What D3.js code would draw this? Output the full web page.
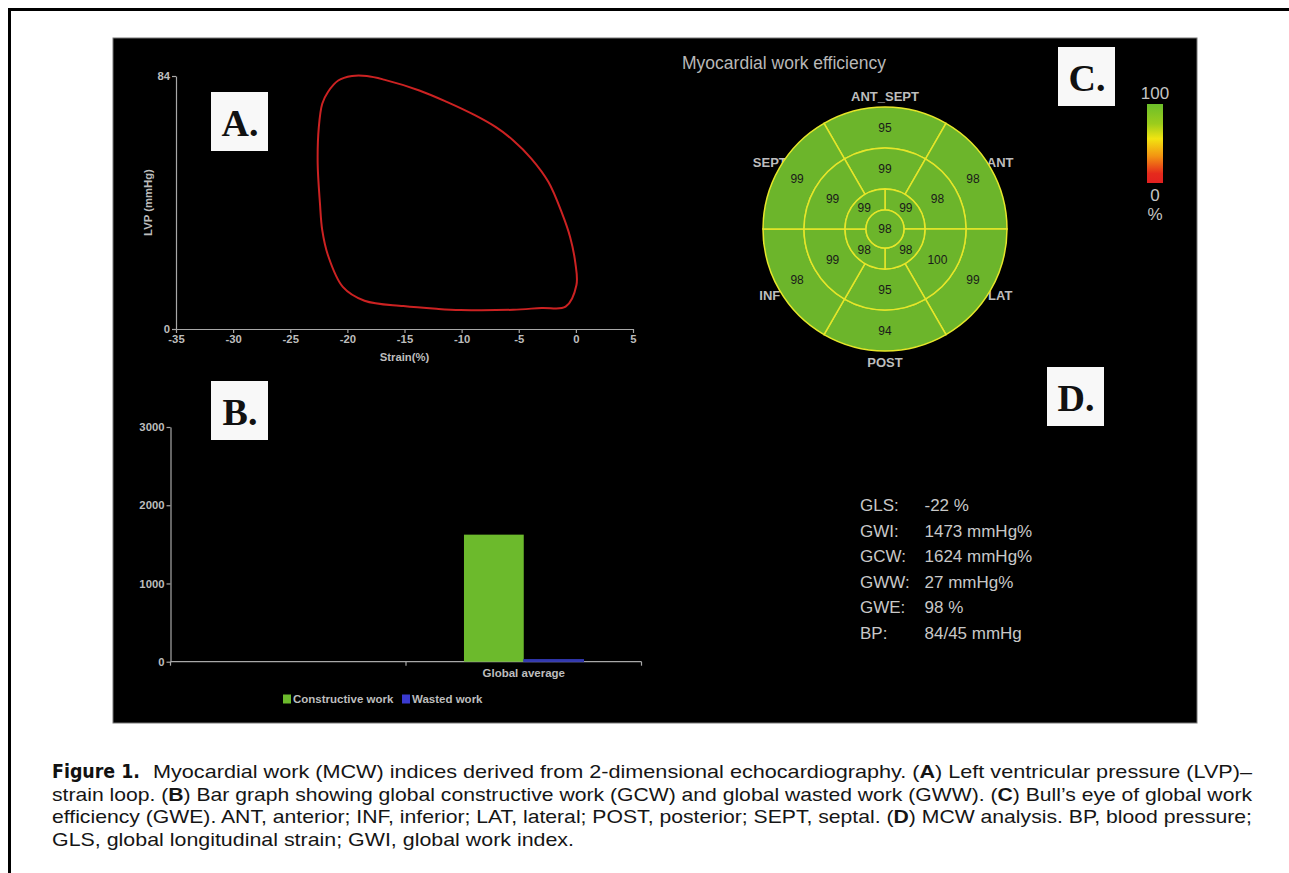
<!DOCTYPE html>
<html>
<head>
<meta charset="utf-8">
<script src="https://cdn.jsdelivr.net/npm/d3@7"></script>
<style>
  body { margin: 0; background: #ffffff; }
</style>
</head>
<body>
<div id="figura"></div>
<script>
// Datos del bucle presión-deformación (A)
const strainLoop = [-0.9, 0.05, -0.05, -0.5, -1.2, -2.4, -3.9, -5.5, -7.0, -8.8, -11.3, -13.7, -16.8, -18.3, -19.6, -20.8, -21.7, -22.2, -22.5, -22.6, -22.4, -22.2, -21.7, -20.4, -18.5, -15.1, -12.2, -10.1, -5.5, -3.0];
const pressureLoop = [7.4, 14.6, 22, 30.5, 38.3, 48.8, 56.6, 62.7, 67, 70.9, 75.4, 79.2, 82.8, 84, 84, 82.5, 78.7, 74.8, 67, 55, 41.7, 32.8, 24.5, 14, 9.4, 7.6, 6.7, 6.3, 6.4, 7.0];
const strainTicks = [-35, -30, -25, -20, -15, -10, -5, 0, 5];
const pressureTicks = [0, 84];

// Datos del gráfico de barras (B)
const barCategories = ['', 'Global average'];
const barSeries = ['Constructive work', 'Wasted work'];
const constructiveWork = [null, 1624];
const wastedWork = [null, 27];
const barTicks = [0, 1000, 2000, 3000];

// Datos del ojo de buey (C), en sentido horario desde arriba
const regionNames = ['ANT_SEPT', 'ANT', 'LAT', 'POST', 'INF', 'SEPT'];
const basalValues = [95, 98, 99, 94, 98, 99];
const midValues = [99, 98, 100, 95, 99, 99];
const apicalValues = [99, 98, 98, 99];
const apexValues = [98];
const scaleLabels = ['100', '0', '%'];

// Índices de trabajo miocárdico (D)
const statLabels = ['GLS:', 'GWI:', 'GCW:', 'GWW:', 'GWE:', 'BP:'];
const statValues = ['-22 %', '1473 mmHg%', '1624 mmHg%', '27 mmHg%', '98 %', '84/45 mmHg'];

document.addEventListener('DOMContentLoaded', () => {
    const width = 1289;
    const height = 873;
    const sans = '"Liberation Sans", Arial, sans-serif';
    const gris = '#bdbdbd';
    const formatoSimple = d => String(d); // guion normal, sin separador de miles

    const svg = d3.select('#figura')
        .append('svg')
        .attr('width', width)
        .attr('height', height);

    // Marco de la página
    svg.append('rect').attr('x', 8).attr('y', 8).attr('width', width - 8).attr('height', 3).attr('fill', '#000');
    svg.append('rect').attr('x', 8).attr('y', 8).attr('width', 3).attr('height', height - 8).attr('fill', '#000');

    // Panel negro
    svg.append('rect')
        .attr('x', 113).attr('y', 38)
        .attr('width', 1084).attr('height', 685)
        .attr('fill', '#000')
        .attr('stroke', '#777')
        .attr('stroke-width', 1);

    function estiloEje(g, size) {
        g.select('.domain').attr('stroke', '#a8a8a8').attr('stroke-width', 1.2);
        g.selectAll('.tick line').attr('stroke', '#a8a8a8').attr('stroke-width', 1.2);
        g.selectAll('.tick text')
            .attr('fill', gris)
            .attr('font-family', sans)
            .attr('font-weight', 'bold')
            .attr('font-size', size);
    }

    // Caja con letra del panel
    function crearEtiqueta(x, y, letra) {
        svg.append('rect')
            .attr('x', x).attr('y', y)
            .attr('width', 57).attr('height', 59)
            .attr('fill', '#f8f8f8');
        svg.append('text')
            .attr('x', x + 29).attr('y', y + 44)
            .attr('text-anchor', 'middle')
            .attr('font-family', '"Liberation Serif", "Times New Roman", serif')
            .attr('font-weight', 'bold')
            .attr('font-size', 38)
            .attr('fill', '#111')
            .text(letra);
    }

    // ---------- A: bucle LVP - strain ----------
    const xA = d3.scaleLinear().domain([-35, 5]).range([176, 633]);
    const yA = d3.scaleLinear().domain([0, 84]).range([329, 76]);

    const ejeXA = svg.append('g')
        .attr('transform', `translate(0,${yA(0)})`)
        .call(d3.axisBottom(xA).tickValues(strainTicks).tickFormat(formatoSimple)
            .tickSize(4).tickSizeOuter(0).tickPadding(2));
    estiloEje(ejeXA, 11.3);

    const ejeYA = svg.append('g')
        .attr('transform', `translate(${xA(-35)},0)`)
        .call(d3.axisLeft(yA).tickValues(pressureTicks).tickFormat(formatoSimple)
            .tickSize(4).tickSizeOuter(0).tickPadding(2));
    estiloEje(ejeYA, 11.3);

    svg.append('text')
        .attr('x', (xA(-35) + xA(5)) / 2).attr('y', 361)
        .attr('text-anchor', 'middle')
        .attr('font-family', sans).attr('font-weight', 'bold').attr('font-size', 11.3)
        .attr('fill', gris)
        .text('Strain(%)');

    svg.append('text')
        .attr('transform', `translate(152,${(yA(0) + yA(84)) / 2}) rotate(-90)`)
        .attr('text-anchor', 'middle')
        .attr('font-family', sans).attr('font-weight', 'bold').attr('font-size', 11.3)
        .attr('fill', gris)
        .text('LVP (mmHg)');

    const linea = d3.line()
        .x(d => xA(d[0]))
        .y(d => yA(d[1]))
        .curve(d3.curveCatmullRomClosed.alpha(0.5));

    svg.append('path')
        .datum(d3.zip(strainLoop, pressureLoop))
        .attr('d', linea)
        .attr('fill', 'none')
        .attr('stroke', '#cc2222')
        .attr('stroke-width', 2);

    crearEtiqueta(211, 92, 'A.');

    // ---------- B: barras ----------
    const yB = d3.scaleLinear().domain([0, 3000]).range([661.7, 427]);
    const x0 = d3.scaleBand().domain(barCategories).range([170.5, 641.5]).padding(0);
    const x1 = d3.scaleBand().domain(barSeries).range([0, x0.bandwidth()]).paddingInner(0).paddingOuter(0.97);
    const coloresBarras = { 'Constructive work': '#6cba2c', 'Wasted work': '#3238b0' };

    const ejeYB = svg.append('g')
        .attr('transform', `translate(${x0.range()[0]},0)`)
        .call(d3.axisLeft(yB).tickValues(barTicks).tickFormat(formatoSimple)
            .tickSize(4).tickSizeOuter(0).tickPadding(2));
    estiloEje(ejeYB, 11.3);

    // Eje X con marcas en los bordes de las categorías
    const ejeXB = svg.append('g').attr('transform', `translate(0,${yB(0)})`);
    ejeXB.append('line')
        .attr('x1', x0.range()[0]).attr('x2', x0.range()[1])
        .attr('stroke', '#a8a8a8').attr('stroke-width', 1.2);
    const bordes = barCategories.map(c => x0(c)).concat([x0.range()[1]]);
    ejeXB.selectAll('.marca')
        .data(bordes)
        .enter().append('line')
        .attr('x1', d => d).attr('x2', d => d)
        .attr('y1', 0).attr('y2', 4)
        .attr('stroke', '#a8a8a8').attr('stroke-width', 1.2);
    ejeXB.selectAll('.cat')
        .data(barCategories)
        .enter().append('text')
        .attr('x', d => x0(d) + x0.bandwidth() / 2)
        .attr('y', 15)
        .attr('text-anchor', 'middle')
        .attr('font-family', sans).attr('font-weight', 'bold').attr('font-size', 11.5)
        .attr('fill', gris)
        .text(d => d);

    const filas = barCategories.map((c, i) => ({
        categoria: c,
        valores: [
            { serie: barSeries[0], valor: constructiveWork[i] },
            { serie: barSeries[1], valor: wastedWork[i] }
        ]
    }));

    svg.append('g').selectAll('g')
        .data(filas)
        .enter().append('g')
        .attr('transform', d => `translate(${x0(d.categoria)},0)`)
        .selectAll('rect')
        .data(d => d.valores.filter(v => v.valor !== null))
        .enter().append('rect')
        .attr('x', d => x1(d.serie))
        .attr('y', d => yB(d.valor))
        .attr('width', x1.bandwidth())
        .attr('height', d => yB(0) - yB(d.valor))
        .attr('fill', d => coloresBarras[d.serie])
        .attr('stroke', d => d.serie === 'Wasted work' ? coloresBarras[d.serie] : 'none')
        .attr('stroke-width', 1);

    // Leyenda
    const leyenda = svg.append('g').attr('transform', 'translate(283,699)');
    const posLeyenda = [0, 119];
    barSeries.forEach((s, i) => {
        leyenda.append('rect')
            .attr('x', posLeyenda[i]).attr('y', -4.5)
            .attr('width', 8).attr('height', 9)
            .attr('fill', i === 0 ? coloresBarras[s] : '#3a3ad0');
        leyenda.append('text')
            .attr('x', posLeyenda[i] + 10).attr('y', 4)
            .attr('font-family', sans).attr('font-weight', 'bold').attr('font-size', 11.5)
            .attr('fill', gris)
            .text(s);
    });

    crearEtiqueta(211, 381, 'B.');

    // ---------- C: ojo de buey ----------
    svg.append('text')
        .attr('x', 784).attr('y', 69)
        .attr('text-anchor', 'middle')
        .attr('font-family', sans).attr('font-size', 17.5)
        .attr('fill', '#b8b8b8')
        .text('Myocardial work efficiency');

    const cx = 885, cy = 229;
    const ojo = svg.append('g').attr('transform', `translate(${cx},${cy})`);

    // Nombres de las regiones (debajo del círculo)
    ojo.selectAll('.region')
        .data(regionNames)
        .enter().append('text')
        .attr('x', (d, i) => 133 * Math.sin(i * Math.PI / 3))
        .attr('y', (d, i) => -133 * Math.cos(i * Math.PI / 3) + 4.5)
        .attr('text-anchor', 'middle')
        .attr('font-family', sans).attr('font-weight', 'bold').attr('font-size', 13)
        .attr('fill', gris)
        .text(d => d);

    const anillos = [
        { valores: basalValues, r0: 81, r1: 122, desfase: -30 },
        { valores: midValues, r0: 40, r1: 81, desfase: -30 },
        { valores: apicalValues, r0: 19, r1: 40, desfase: 0 },
        { valores: apexValues, r0: 0, r1: 19, desfase: 0 }
    ];
    const arco = d3.arc();
    const segmentos = [];
    anillos.forEach(a => {
        const n = a.valores.length;
        a.valores.forEach((v, i) => {
            const paso = 360 / n;
            segmentos.push({
                valor: v,
                innerRadius: a.r0,
                outerRadius: a.r1,
                startAngle: (a.desfase + i * paso) * Math.PI / 180,
                endAngle: (a.desfase + (i + 1) * paso) * Math.PI / 180,
                unico: n === 1
            });
        });
    });

    ojo.selectAll('path.seg')
        .data(segmentos)
        .enter().append('path')
        .attr('class', 'seg')
        .attr('d', arco)
        .attr('fill', '#6cb52b')
        .attr('stroke', '#e6e62a')
        .attr('stroke-width', 1.5);

    ojo.selectAll('text.val')
        .data(segmentos)
        .enter().append('text')
        .attr('class', 'val')
        .attr('x', d => d.unico ? 0 : arco.centroid(d)[0])
        .attr('y', d => (d.unico ? 0 : arco.centroid(d)[1]) + 4.3)
        .attr('text-anchor', 'middle')
        .attr('font-family', sans).attr('font-size', 12)
        .attr('fill', '#1a1a1a')
        .text(d => d.valor);

    // Barra de color
    const grad = svg.append('defs').append('linearGradient')
        .attr('id', 'escala').attr('x1', 0).attr('y1', 0).attr('x2', 0).attr('y2', 1);
    [[0, '#6cbf2a'], [0.25, '#9ccc1c'], [0.44, '#f2e411'], [0.66, '#f39412'], [0.88, '#e52a1c'], [1, '#e22020']]
        .forEach(p => grad.append('stop').attr('offset', p[0]).attr('stop-color', p[1]));
    svg.append('rect')
        .attr('x', 1147).attr('y', 104)
        .attr('width', 16).attr('height', 79)
        .attr('fill', 'url(#escala)');
    const yEscala = [99, 201, 220];
    svg.selectAll('.escala-txt')
        .data(scaleLabels)
        .enter().append('text')
        .attr('x', 1155)
        .attr('y', (d, i) => yEscala[i])
        .attr('text-anchor', 'middle')
        .attr('font-family', sans).attr('font-size', 17)
        .attr('fill', '#c4c4c4')
        .text(d => d);

    crearEtiqueta(1058, 47, 'C.');

    // ---------- D: índices ----------
    crearEtiqueta(1047, 367, 'D.');
    const yStats = d3.scalePoint().domain(statLabels).range([511, 639]);
    svg.selectAll('.stat-lab')
        .data(statLabels)
        .enter().append('text')
        .attr('x', 860).attr('y', d => yStats(d))
        .attr('font-family', sans).attr('font-size', 17)
        .attr('fill', '#c8c8c8')
        .text(d => d);
    svg.selectAll('.stat-val')
        .data(statValues)
        .enter().append('text')
        .attr('x', 924.5).attr('y', (d, i) => yStats(statLabels[i]))
        .attr('font-family', sans).attr('font-size', 17)
        .attr('fill', '#c8c8c8')
        .text(d => d);

    // ---------- Pie de figura ----------
    function lineaPie(x, y, largo, partes) {
        const t = svg.append('text')
            .attr('x', x).attr('y', y)
            .attr('font-family', sans).attr('font-size', 18.2)
            .attr('fill', '#151515');
        partes.forEach(p => {
            t.append('tspan')
                .attr('font-weight', p[1] ? 'bold' : 'normal')
                .text(p[0]);
        });
        t.attr('textLength', largo).attr('lengthAdjust', 'spacingAndGlyphs');
    }

    svg.append('text')
        .attr('x', 52).attr('y', 778)
        .attr('font-family', '"Liberation Sans Narrow", "DejaVu Sans Condensed", sans-serif')
        .attr('font-weight', 'bold').attr('font-size', 19)
        .attr('fill', '#111')
        .attr('textLength', 88).attr('lengthAdjust', 'spacingAndGlyphs')
        .text('Figure 1.');

    lineaPie(153, 778, 1099, [
        ['Myocardial work (MCW) indices derived from 2-dimensional echocardiography. (', false],
        ['A', true],
        [') Left ventricular pressure (LVP)–', false]
    ]);
    lineaPie(52, 800.5, 1200, [
        ['strain loop. (', false], ['B', true],
        [') Bar graph showing global constructive work (GCW) and global wasted work (GWW). (', false],
        ['C', true], [') Bull’s eye of global work', false]
    ]);
    lineaPie(52, 823, 1200, [
        ['efficiency (GWE). ANT, anterior; INF, inferior; LAT, lateral; POST, posterior; SEPT, septal. (', false],
        ['D', true], [') MCW analysis. BP, blood pressure;', false]
    ]);
    lineaPie(52, 845.5, 522, [
        ['GLS, global longitudinal strain; GWI, global work index.', false]
    ]);
});
</script>
</body>
</html>
